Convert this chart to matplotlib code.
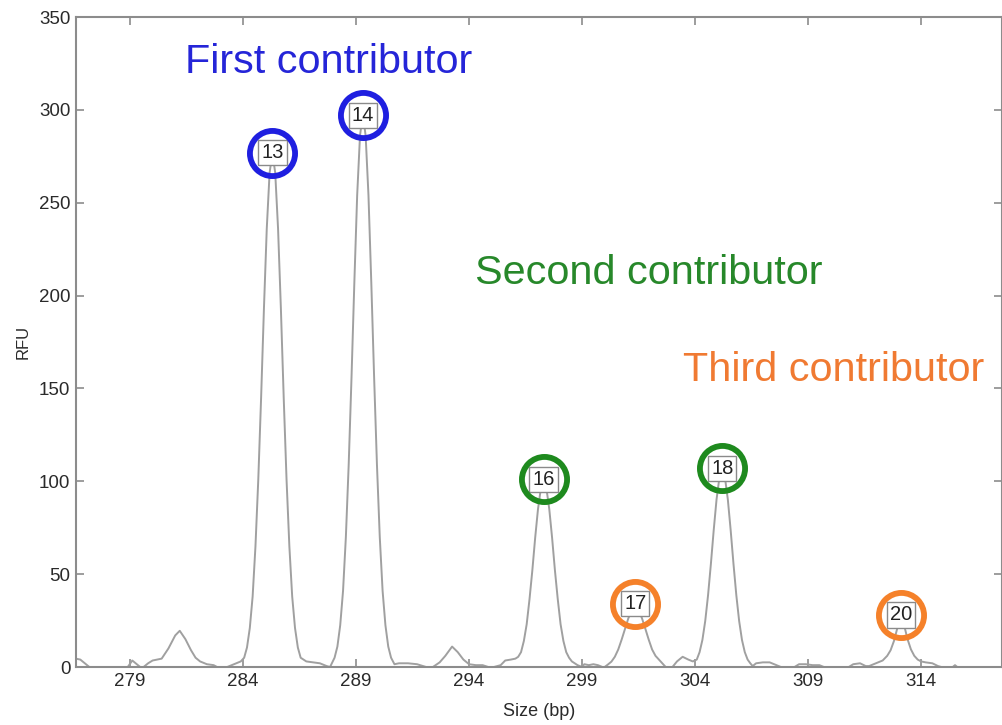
"""Electropherogram with three contributors' allele calls -> out.png."""
import matplotlib
matplotlib.use("Agg")
import matplotlib.pyplot as plt

plt.rcParams["font.family"] = ["Liberation Sans", "DejaVu Sans"]

# trace (size in bp, height in RFU)
trace_bp = [
    276.6, 276.8, 277.0, 277.2, 278.9, 279.1, 279.3, 279.45, 279.6, 279.8,
    280.0, 280.4, 280.7, 281.0, 281.2, 281.45, 281.7, 281.9, 282.1, 282.4,
    282.7, 282.85, 283.3, 283.6, 283.9,
    284.05, 284.175, 284.3, 284.425, 284.55, 284.675, 284.8, 284.925, 285.05, 285.175,
    285.3, 285.425, 285.55, 285.675, 285.8, 285.925, 286.05, 286.175, 286.3, 286.425,
    286.55, 286.8, 287.1, 287.4, 287.7, 287.85,
    288.05, 288.175, 288.3, 288.425, 288.55, 288.675, 288.8, 288.925, 289.05, 289.175,
    289.3, 289.425, 289.55, 289.675, 289.8, 289.925, 290.05, 290.175, 290.3, 290.425,
    290.55, 290.7, 290.9, 291.3, 291.7, 292.1,
    292.4, 292.7, 292.95, 293.25, 293.5, 293.75, 294.0, 294.3, 294.6, 294.85,
    295.1, 295.4, 295.6, 295.85, 296.05, 296.175, 296.3, 296.425, 296.55, 296.675,
    296.8, 296.925, 297.05, 297.175, 297.3, 297.425, 297.55, 297.675, 297.8, 297.925,
    298.05, 298.175, 298.3, 298.425, 298.55, 298.8, 299.0, 299.1, 299.3, 299.5,
    299.7, 299.9,
    300.0, 300.15, 300.3, 300.45, 300.6, 300.75, 300.9, 301.05, 301.2, 301.35,
    301.5, 301.65, 301.8, 301.95, 302.1, 302.25, 302.4, 302.55, 302.7,
    303.0, 303.2, 303.45, 303.7, 303.9, 304.075,
    304.2, 304.325, 304.45, 304.575, 304.7, 304.825, 304.95, 305.075, 305.2, 305.325,
    305.45, 305.575, 305.7, 305.825, 305.95, 306.075, 306.2, 306.325, 306.45, 306.55,
    306.7, 307.0, 307.3, 307.6, 307.8,
    308.4, 308.6, 308.9, 309.2, 309.5, 309.7,
    310.8, 311.0, 311.3, 311.55, 311.7,
    312.0, 312.3, 312.5, 312.65, 312.8, 312.95, 313.1, 313.25, 313.4, 313.55,
    313.7, 313.85, 314.0, 314.2, 314.5, 314.75, 314.9, 315.4, 315.5, 315.6,
    317.6,
]
trace_rfu = [
    4.5, 4, 2, 0, 0, 3.5, 1.5, 0, 0, 2,
    3.5, 4.5, 10, 17, 19.5, 15, 9, 5, 3, 1.5,
    1, 0, 0, 1.5, 3,
    5, 10.5, 21, 38, 65, 101, 145, 193, 236, 266,
    277, 266, 236, 193, 145, 101, 65, 38, 21, 10.5,
    5, 3, 2.5, 2, 0.5, 0,
    5, 11, 22.5, 41, 70, 109, 156, 207, 254, 286,
    298, 286, 254, 207, 156, 109, 70, 41, 22.5, 11,
    5, 1.5, 2, 2, 1.5, 0,
    0, 2.5, 6, 11, 8, 4, 1.5, 1, 1, 0,
    0, 1, 3.5, 4, 4.5, 5.5, 8, 14, 23, 36.5,
    52, 69.5, 85, 96, 100, 96, 85, 69.5, 52, 36.5,
    23, 14, 8, 5, 3, 1, 0, 1.5, 1, 1.5,
    1, 0,
    0, 1.4, 2.9, 5.5, 9.4, 14.7, 20.6, 26.3, 30.5, 32,
    30.5, 26.3, 20.6, 14.7, 9.4, 6, 4, 2, 0,
    0, 3, 5.5, 4, 3, 4,
    8, 14.6, 24.8, 38.7, 55.5, 73.7, 90.2, 101.8, 106, 101.8,
    90.2, 73.7, 55.5, 38.7, 24.8, 14.6, 8, 4, 1.9, 0.5,
    2, 2.5, 2.5, 1, 0,
    0, 1.5, 1.5, 1, 1, 0,
    0, 1.5, 2, 0.5, 0.5,
    2, 3.5, 6, 9, 14, 21, 26, 22.5, 15, 9.5,
    6, 4, 3, 2.5, 2, 0.5, 0, 0, 1, 0,
    0,
]

# allele calls
allele_names = ["13", "14", "16", "17", "18", "20"]
allele_bp = [285.3, 289.3, 297.3, 301.35, 305.2, 313.1]
allele_rfu = [277, 297, 101, 34, 107, 28]
allele_owner = ["first", "first", "second", "third", "second", "third"]

contributors = ["first", "second", "third"]
contributor_text = ["First contributor", "Second contributor", "Third contributor"]
contributor_bp = [281.45, 294.25, 303.45]
contributor_rfu = [326, 212, 160]

COLORS = {"first": "#1f1fe0", "second": "#1e8a1e", "third": "#f5812a"}
TEXT_COLORS = {"first": "#2525d8", "second": "#27882a", "third": "#f07a32"}
GREY = "#8c8c8c"

fig = plt.figure(figsize=(10.03, 7.25), dpi=100)
ax = fig.add_axes([76 / 1003, 58 / 725, 926 / 1003, 650 / 725])

ax.plot(trace_bp, trace_rfu, color="#a0a0a0", linewidth=1.4, zorder=2)

for name, x, y, who in zip(allele_names, allele_bp, allele_rfu, allele_owner):
    ax.text(x, y, name, ha="center", va="center", fontsize=14.5, color="#222222",
            zorder=4,
            bbox=dict(boxstyle="square,pad=0.15", fc="white", ec="#8a8a8a", lw=1.0))
    ax.plot([x], [y], marker="o", markersize=32.5, markerfacecolor="none",
            markeredgecolor=COLORS[who], markeredgewidth=4.2, zorder=5)

for who, label, x, y in zip(contributors, contributor_text, contributor_bp, contributor_rfu):
    ax.text(x, y, label, ha="left", va="center", fontsize=29.8, color=TEXT_COLORS[who])

ax.set_xlim(276.61, 317.58)
ax.set_ylim(0, 350)
ax.set_xticks(range(279, 315, 5))
ax.set_yticks(range(0, 351, 50))
ax.tick_params(direction="in", length=6, width=1.2, color=GREY, labelsize=13.5,
               labelcolor="#2a2a2a", top=True, right=True, pad=4)
for s in ax.spines.values():
    s.set_color(GREY)
    s.set_linewidth(1.5)

ax.set_xlabel("Size (bp)", fontsize=13, color="#2a2a2a", labelpad=10)
ax.set_ylabel("RFU", fontsize=12, color="#2a2a2a", labelpad=6)

fig.savefig("out.png", dpi=100)
